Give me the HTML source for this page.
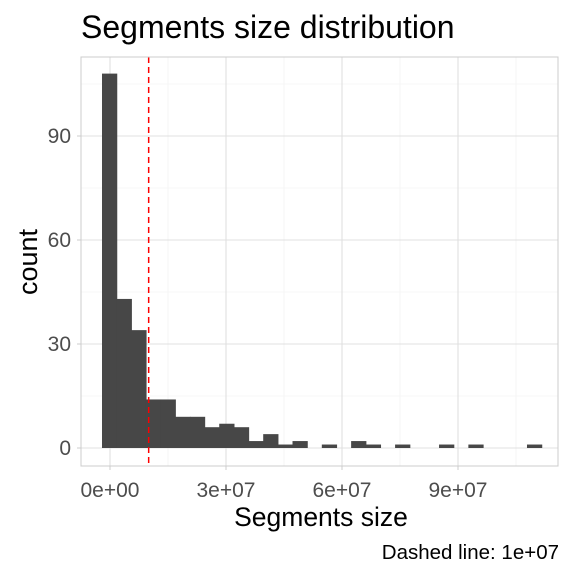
<!DOCTYPE html>
<html><head><meta charset="utf-8"><style>
body{margin:0;background:#fff;font-family:"Liberation Sans",sans-serif;}
</style></head><body>
<svg id="chart" width="576" height="576" xmlns="http://www.w3.org/2000/svg" font-family="Liberation Sans, sans-serif">
<rect width="576" height="576" fill="#fff"/>
<text x="81" y="38" font-size="32" fill="#000">Segments size distribution</text>
<g id="grid"></g>
<g id="bars"></g>
<g id="ticks"></g>
<rect x="81" y="57" width="477" height="409" fill="none" stroke="#cccccc" stroke-width="1"/>
<text transform="translate(37,262) rotate(-90)" text-anchor="middle" font-size="27" fill="#000">count</text>
<text x="321" y="526" text-anchor="middle" font-size="26.5" fill="#000">Segments size</text>
<text x="559" y="559" text-anchor="end" font-size="20.5" fill="#000">Dashed line: 1e+07</text>
</svg>
<script>
const counts=[108,43,34,14,14,9,9,6,7,6,2,4,1,2,0,1,0,2,1,0,1,0,0,1,0,1,0,0,0,1];
const binStart=-2.07e6;
const binWidth=3.79e6;
const xTicks=[0,3e7,6e7,9e7];
const xTickLabels=["0e+00","3e+07","6e+07","9e+07"];
const yTicks=[0,30,60,90];
const cutoff=1e7;
const NS="http://www.w3.org/2000/svg";
const xs=v=>110+v*116/3e7;
const ys=v=>448-v*104/30;
function mk(tag,attrs,parent){const e=document.createElementNS(NS,tag);for(const k in attrs)e.setAttribute(k,attrs[k]);parent.appendChild(e);return e;}
const grid=document.getElementById('grid'),bars=document.getElementById('bars'),ticks=document.getElementById('ticks');
for(let i=0;i<yTicks.length;i++){const v=yTicks[i]+15;const y=ys(v);if(y>57){const l=mk('line',{x1:81,x2:558,y1:y,y2:y,stroke:'#f0f0f0','stroke-width':0.6},grid);

}}
for(let i=0;i<xTicks.length;i++){const v=xTicks[i]+1.5e7;const x=xs(v);if(x<558){const l=mk('line',{x1:x,x2:x,y1:57,y2:466,stroke:'#f0f0f0','stroke-width':0.6},grid);

}}
yTicks.forEach(v=>{const y=ys(v);const l=mk('line',{x1:81,x2:558,y1:y,y2:y,stroke:'#e0e0e0','stroke-width':1.1},grid);


const t=mk('text',{x:71,y:y+7,'text-anchor':'end','font-size':21,fill:'#4d4d4d'},ticks);t.textContent=v;


mk('line',{x1:77,x2:81,y1:y,y2:y,stroke:'#ccc'},ticks);});
xTicks.forEach((v,i)=>{const x=xs(v);const l=mk('line',{x1:x,x2:x,y1:57,y2:466,stroke:'#e0e0e0','stroke-width':1.1},grid);


const t=mk('text',{x:x,y:497,'text-anchor':'middle','font-size':21,fill:'#4d4d4d'},ticks);t.textContent=xTickLabels[i];


mk('line',{x1:x,x2:x,y1:466,y2:470,stroke:'#ccc'},ticks);});
counts.forEach((c,i)=>{if(c<=0)return;const x0=xs(binStart+i*binWidth),x1=xs(binStart+(i+1)*binWidth);
const r=mk('rect',{x:x0,y:ys(c),width:x1-x0+0.6,height:ys(0)-ys(c),fill:'#474747'},bars);

});
const cl=mk('line',{x1:xs(cutoff),x2:xs(cutoff),y1:57,y2:466,stroke:'#ff0000','stroke-width':1.5,'stroke-dasharray':'6,4'},bars);


</script>
</body></html>
